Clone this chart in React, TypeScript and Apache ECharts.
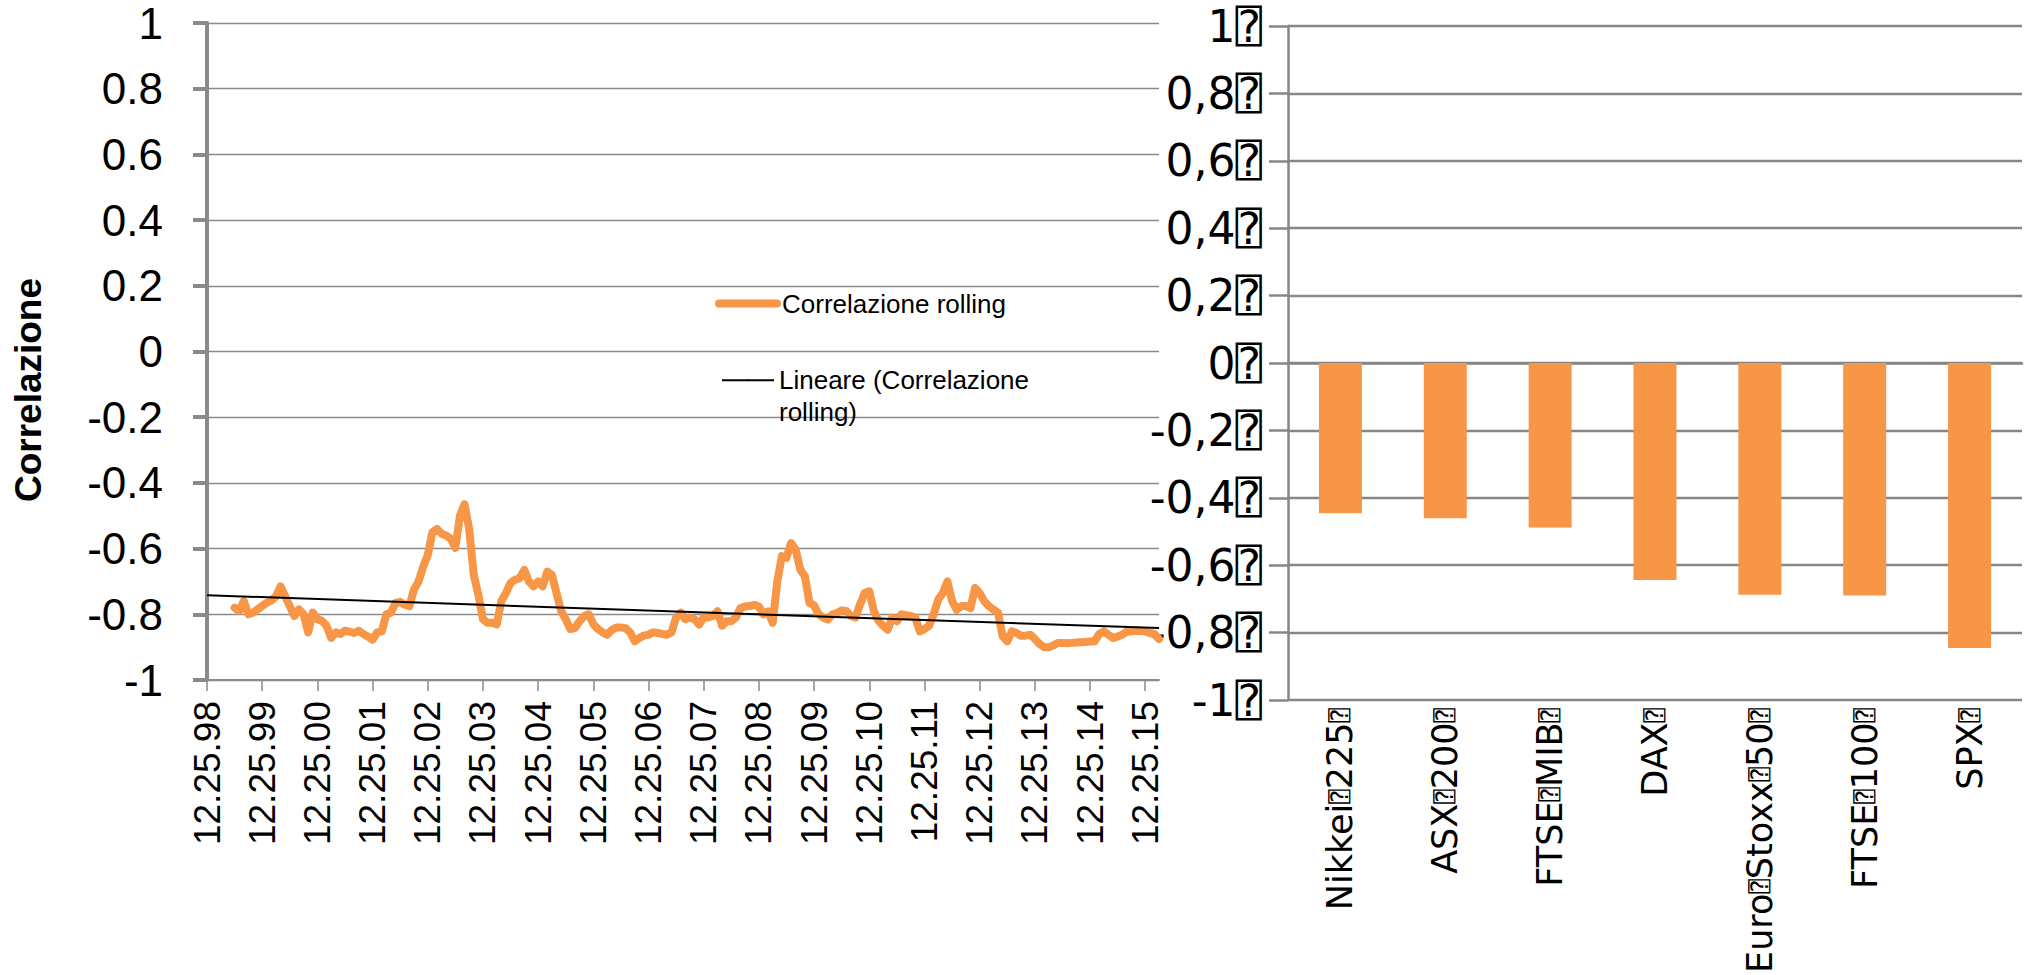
import React, { useEffect, useRef } from 'react';
import * as echarts from 'echarts';

// Placeholder glyph that appears (as a boxed question mark) in the right chart's texts
const T = '\u2370';

// Left chart: tick labels (one per December, every 12 months)
const tickLabels = [
  '12.25.98', '12.25.99', '12.25.00', '12.25.01', '12.25.02', '12.25.03',
  '12.25.04', '12.25.05', '12.25.06', '12.25.07', '12.25.08', '12.25.09',
  '12.25.10', '12.25.11', '12.25.12', '12.25.13', '12.25.14', '12.25.15',
];

// Rolling correlation, monthly from Dec 1998 (index 0) to Mar 2016 (index 207)
const corrRolling: (number | null)[] = [
  null, null, null, null, null, null, -0.78, -0.79, -0.76, -0.80, -0.795, -0.785,
  -0.775, -0.765, -0.758, -0.745, -0.715, -0.745, -0.775, -0.805, -0.785, -0.80, -0.855, -0.795,
  -0.815, -0.82, -0.835, -0.872, -0.855, -0.86, -0.85, -0.853, -0.857, -0.85, -0.86, -0.868,
  -0.877, -0.855, -0.852, -0.80, -0.795, -0.765, -0.762, -0.771, -0.775, -0.725, -0.70, -0.655,
  -0.62, -0.55, -0.54, -0.555, -0.56, -0.57, -0.598, -0.50, -0.465, -0.54, -0.68, -0.74,
  -0.815, -0.826, -0.826, -0.831, -0.76, -0.735, -0.705, -0.695, -0.69, -0.665, -0.70, -0.715,
  -0.70, -0.715, -0.67, -0.68, -0.735, -0.79, -0.815, -0.845, -0.842, -0.821, -0.806, -0.80,
  -0.83, -0.845, -0.855, -0.862, -0.848, -0.84, -0.84, -0.842, -0.855, -0.882, -0.872, -0.865,
  -0.862, -0.855, -0.857, -0.86, -0.862, -0.855, -0.81, -0.795, -0.815, -0.81, -0.815, -0.831,
  -0.81, -0.81, -0.805, -0.791, -0.835, -0.821, -0.821, -0.81, -0.781, -0.776, -0.775, -0.771,
  -0.776, -0.80, -0.791, -0.826, -0.70, -0.623, -0.628, -0.583, -0.603, -0.664, -0.684, -0.765,
  -0.773, -0.80, -0.81, -0.816, -0.80, -0.796, -0.788, -0.79, -0.805, -0.81, -0.77, -0.735,
  -0.73, -0.79, -0.82, -0.835, -0.847, -0.81, -0.821, -0.80, -0.803, -0.805, -0.81, -0.852,
  -0.845, -0.835, -0.80, -0.755, -0.735, -0.70, -0.76, -0.786, -0.775, -0.775, -0.781, -0.72,
  -0.735, -0.76, -0.775, -0.786, -0.795, -0.867, -0.882, -0.852, -0.857, -0.865, -0.865, -0.862,
  -0.875, -0.89, -0.90, -0.90, -0.895, -0.887, -0.887, -0.888, -0.887, -0.886, -0.885, -0.884,
  -0.883, -0.882, -0.86, -0.852, -0.862, -0.872, -0.868, -0.862, -0.853, -0.852, -0.85, -0.851,
  -0.852, -0.857, -0.86, -0.875,
];

// Linear trend line end values
const trendStart = -0.742;
const trendEnd = -0.842;

// Right chart
const barCategories = [
  `Nikkei${T}225${T}`, `ASX${T}200${T}`, `FTSE${T}MIB${T}`, `DAX${T}`,
  `Euro${T}Stoxx${T}50${T}`, `FTSE${T}100${T}`, `SPX${T}`,
];
const barValues = [-0.446, -0.461, -0.488, -0.644, -0.688, -0.69, -0.846];

const ORANGE = '#F79646';
const GRAY = '#8A8A8A';
const SANS = '"Liberation Sans", Arial, sans-serif';
const DEJAVU = '"DejaVu Sans", "DejaVu Sans Mono", sans-serif';

export default function App() {
  const ref = useRef<HTMLDivElement>(null);

  useEffect(() => {
    if (!ref.current) return;
    const chart = echarts.init(ref.current, null, { renderer: 'svg' });
    const months = corrRolling.map((_, i) => `m${i}`);
    const last = corrRolling.length - 1;
    const trend = corrRolling.map((_, i) => (i === 0 ? trendStart : i === last ? trendEnd : null));
    const isDec = (i: number) => i % 12 === 0;
    const fmtComma = (v: number) => {
      const r = Math.round(v * 10) / 10;
      const s = Number.isInteger(r) ? String(r === 0 ? 0 : r) : r.toFixed(1);
      return s.replace('.', ',') + T;
    };
    const richLabel = (v: string) => {
      const parts = v.split(T);
      return parts
        .map((p, i) => (p ? `{a|${p}}` : '') + (i < parts.length - 1 ? `{t|${T}}` : ''))
        .join('');
    };

    const option: any = {
      animation: false,
      backgroundColor: '#ffffff',
      grid: [
        { left: 207, top: 23, width: 952, height: 657, outerBoundsMode: 'none', containLabel: false },
        { left: 1288, top: 26, width: 734, height: 674, outerBoundsMode: 'none', containLabel: false },
      ],
      legend: [
        {
          data: ['Correlazione rolling'],
          left: 715,
          top: 288,
          padding: 0,
          itemWidth: 58,
          itemHeight: 2,
          lineStyle: { width: 8, cap: 'round' },
          textStyle: { fontSize: 26, fontFamily: SANS, color: '#000', lineHeight: 31 },
          selectedMode: false,
        },
        {
          data: ['Lineare (Correlazione rolling)'],
          left: 721,
          top: 333,
          padding: 0,
          itemWidth: 52,
          itemHeight: 2,
          lineStyle: { width: 2 },
          formatter: () => '\nLineare (Correlazione\nrolling)',
          textStyle: { fontSize: 26, fontFamily: SANS, color: '#000', lineHeight: 31.5 },
          selectedMode: false,
        },
      ],
      xAxis: [
        {
          gridIndex: 0,
          type: 'category',
          data: months,
          boundaryGap: false,
          axisLine: { onZero: false, lineStyle: { color: GRAY, width: 2 } },
          axisTick: { interval: (i: number) => isDec(i), length: 11, lineStyle: { color: GRAY, width: 1.5 } },
          axisLabel: {
            interval: (i: number) => isDec(i),
            formatter: (_v: string, i: number) => tickLabels[i / 12] ?? '',
            rotate: 90,
            margin: 21,
            fontFamily: SANS,
            fontSize: 37,
            color: '#000',
          },
          splitLine: { show: false },
        },
        {
          gridIndex: 1,
          type: 'category',
          data: barCategories,
          axisLine: { onZero: true, lineStyle: { color: '#868686', width: 2.5 } },
          axisTick: { length: 13, lineStyle: { color: '#868686', width: 2.5 } },
          axisLabel: { show: false },
          splitLine: { show: false },
        },
        {
          gridIndex: 1,
          type: 'category',
          data: barCategories,
          position: 'bottom',
          axisLine: { show: false, onZero: false },
          axisTick: { show: false },
          axisLabel: {
            rotate: 90,
            margin: 8,
            interval: 0,
            formatter: richLabel,
            rich: {
              a: { fontFamily: DEJAVU, fontSize: 35, color: '#000', lineHeight: 40, verticalAlign: 'middle' },
              t: { fontFamily: DEJAVU, fontSize: 24, color: '#000', lineHeight: 40, verticalAlign: 'middle' },
            },
          },
          splitLine: { show: false },
        },
      ],
      yAxis: [
        {
          gridIndex: 0,
          type: 'value',
          min: -1,
          max: 1,
          interval: 0.2,
          axisLine: { show: true, lineStyle: { color: GRAY, width: 4 } },
          axisTick: { show: true, length: 14, lineStyle: { color: GRAY, width: 4 } },
          axisLabel: { margin: 44, fontSize: 44, fontFamily: SANS, color: '#000' },
          splitLine: { show: true, lineStyle: { color: GRAY, width: 1.3 } },
        },
        {
          gridIndex: 1,
          type: 'value',
          min: -1,
          max: 1,
          interval: 0.2,
          axisLine: { show: true, lineStyle: { color: '#868686', width: 2.5 } },
          axisTick: { show: true, length: 19, lineStyle: { color: '#868686', width: 2.5 } },
          axisLabel: { margin: 26, fontSize: 44, fontFamily: DEJAVU, color: '#000', formatter: fmtComma },
          splitLine: { show: true, lineStyle: { color: '#868686', width: 2.3 } },
        },
      ],
      graphic: [
        {
          type: 'text',
          x: 28,
          y: 390,
          rotation: Math.PI / 2,
          style: {
            text: 'Correlazione',
            fontSize: 37,
            fontWeight: 'bold',
            fontFamily: SANS,
            fill: '#000',
            align: 'center',
            verticalAlign: 'middle',
          },
        },
      ],
      series: [
        {
          name: 'Correlazione rolling',
          type: 'line',
          xAxisIndex: 0,
          yAxisIndex: 0,
          data: corrRolling,
          showSymbol: false,
          symbol: 'none',
          lineStyle: { color: ORANGE, width: 8, cap: 'round', join: 'round' },
          itemStyle: { color: ORANGE },
          z: 3,
        },
        {
          name: 'Lineare (Correlazione rolling)',
          type: 'line',
          xAxisIndex: 0,
          yAxisIndex: 0,
          data: trend,
          connectNulls: true,
          showSymbol: false,
          symbol: 'none',
          lineStyle: { color: '#000', width: 2 },
          itemStyle: { color: '#000' },
          z: 4,
        },
        {
          name: 'Correlazione',
          type: 'bar',
          xAxisIndex: 1,
          yAxisIndex: 1,
          data: barValues,
          barWidth: 43,
          itemStyle: { color: ORANGE },
        },
      ],
    };

    chart.setOption(option);
    return () => chart.dispose();
  }, []);

  return (
    <div
      ref={ref}
      style={{ position: 'absolute', left: 0, top: 0, width: 2027, height: 975 }}
    />
  );
}
